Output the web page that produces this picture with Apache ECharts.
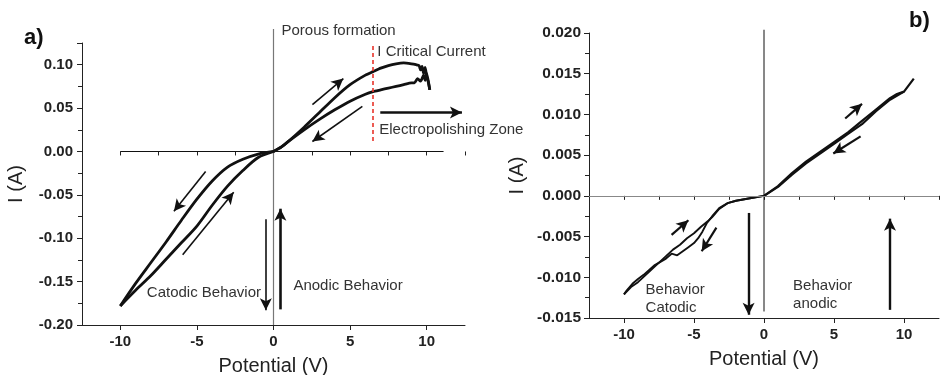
<!DOCTYPE html>
<html>
<head>
<meta charset="utf-8">
<script src="https://cdn.jsdelivr.net/npm/echarts@6/dist/echarts.min.js"></script>
<style>
  html, body { margin: 0; padding: 0; background: #fff; }
  #chart { width: 940px; height: 375px; }
</style>
</head>
<body>
<div id="chart"></div>
<script>
// panel a) anodic sweep 0 -> 10 V (upper branch)
var aFwdV = [0, 0.5, 1, 2, 3, 4, 5, 6, 6.5, 7, 7.5, 8, 8.5, 9, 9.3, 9.5, 9.6, 9.7, 9.8, 9.9, 10.0, 10.1, 10.2];
var aFwdI = [0, 0.005, 0.012, 0.028, 0.045, 0.062, 0.077, 0.088, 0.092, 0.096, 0.099, 0.101, 0.102, 0.101, 0.100, 0.099, 0.094, 0.098, 0.090, 0.097, 0.086, 0.080, 0.071];
// return 10 -> 0 V (lower branch)
var aRevV = [10.2, 10.0, 9.9, 9.8, 9.6, 9.4, 9.2, 9.0, 8.5, 8, 7.5, 7, 6.5, 6, 5, 4, 3, 2, 1, 0.5, 0];
var aRevI = [0.071, 0.090, 0.082, 0.088, 0.081, 0.084, 0.079, 0.079, 0.077, 0.075, 0.073, 0.071, 0.069, 0.066, 0.058, 0.048, 0.037, 0.025, 0.012, 0.005, 0];
// cathodic sweep 0 -> -10 V
var aCathV = [0, -1, -2, -3, -4, -5, -6, -7, -8, -9, -10];
var aCathI = [0, -0.003, -0.009, -0.018, -0.034, -0.055, -0.079, -0.104, -0.128, -0.152, -0.178];
// return -10 -> 0 V
var aBackV = [-10, -9, -8, -7, -6, -5, -4, -3, -2, -1, 0];
var aBackI = [-0.178, -0.160, -0.143, -0.124, -0.105, -0.086, -0.062, -0.040, -0.022, -0.007, 0];

// panel b)
var bFwdV = [0, 1, 2, 3, 4, 5, 6, 7, 8, 9, 9.5, 10, 10.7];
var bFwdI = [0, 0.0012, 0.0028, 0.0042, 0.0054, 0.0066, 0.0078, 0.0092, 0.0106, 0.0120, 0.0125, 0.0128, 0.0144];
var bRevV = [10, 9, 8, 7, 6, 5, 4, 3, 2, 1, 0];
var bRevI = [0.0128, 0.0118, 0.0104, 0.0088, 0.0076, 0.0064, 0.0052, 0.0040, 0.0026, 0.0011, 0];
var bCathV = [0, -1, -2, -2.6, -3.2, -3.7, -4.1, -4.4, -4.7, -5.0, -5.4, -5.8, -6.2, -6.6, -7.0, -7.4, -7.8, -8.2, -8.6, -9.0, -9.4, -9.8, -10];
var bCathI = [0, -0.0003, -0.0006, -0.0009, -0.0015, -0.0025, -0.0034, -0.0044, -0.0052, -0.0058, -0.0063, -0.0068, -0.0073, -0.0071, -0.0077, -0.0081, -0.0085, -0.0091, -0.0097, -0.0102, -0.0108, -0.0116, -0.0121];
var bBackV = [-10, -9.5, -9, -8.5, -8, -7.5, -7, -6.5, -6, -5.5, -5, -4.5, -4, -3.7, -3.2, -2.6, -2, -1, 0];
var bBackI = [-0.0121, -0.0112, -0.0106, -0.0098, -0.0090, -0.0082, -0.0074, -0.0066, -0.0060, -0.0052, -0.0046, -0.0038, -0.0031, -0.0026, -0.0016, -0.0009, -0.0006, -0.0003, 0];

var xTicks = [-10, -5, 0, 5, 10];

function pairs(xs, ys) {
  return xs.map(function (x, i) { return [x, ys[i]]; });
}

var chart = echarts.init(document.getElementById('chart'));
var FONT = 'Liberation Sans, Arial, sans-serif';

function arrow(x1, y1, x2, y2, w) {
  return [{ coord: [x1, y1], lineStyle: { width: w || 1.6 } }, { coord: [x2, y2] }];
}

function xAxisMain(gi) {
  return {
    type: 'value', gridIndex: gi, min: -12.5, max: 12.5, interval: 2.5,
    name: 'Potential (V)', nameLocation: 'middle', nameGap: 31,
    nameTextStyle: { fontSize: 20, color: '#222', fontFamily: FONT },
    axisLine: { onZero: false, lineStyle: { color: '#222', width: 1 } },
    axisTick: { customValues: xTicks, length: 5, lineStyle: { color: '#222' } },
    axisLabel: {
      customValues: xTicks, fontSize: 15, fontWeight: 'bold', color: '#222', fontFamily: FONT, margin: 9,
      formatter: function (v) { return String(v); }
    },
    splitLine: { show: false }
  };
}
function xAxisMinor(gi) {
  return {
    type: 'value', gridIndex: gi, min: -12.5, max: 12.5, interval: 2.5, position: 'bottom',
    axisLine: { show: false },
    axisTick: { length: 4, lineStyle: { color: '#222' } },
    axisLabel: { show: false },
    splitLine: { show: false }
  };
}

var curve = { color: '#111', width: 2.8 };

var option = {
  backgroundColor: '#fff',
  animation: false,
  grid: [
    { left: 82, right: 475, top: 43, bottom: 50, outerBoundsMode: 'none', containLabel: false },
    { left: 589, right: 1, top: 33, bottom: 57, outerBoundsMode: 'none', containLabel: false }
  ],
  xAxis: [xAxisMain(0), xAxisMain(1), xAxisMinor(0), xAxisMinor(1)],
  yAxis: [{
    type: 'value', gridIndex: 0, min: -0.2, max: 0.125, interval: 0.05,
    name: 'I (A)', nameLocation: 'middle', nameGap: 56,
    nameTextStyle: { fontSize: 20, color: '#222', fontFamily: FONT },
    axisLine: { show: true, onZero: false, lineStyle: { color: '#222' } },
    axisTick: { show: true, length: 5, lineStyle: { color: '#222' } },
    minorTick: { show: true, splitNumber: 2, length: 4, lineStyle: { color: '#222' } },
    axisLabel: {
      fontSize: 15, fontWeight: 'bold', color: '#222', fontFamily: FONT, showMaxLabel: false, margin: 9,
      formatter: function (v) { return v.toFixed(2); }
    },
    splitLine: { show: false }
  }, {
    type: 'value', gridIndex: 1, min: -0.015, max: 0.02, interval: 0.005,
    name: 'I (A)', nameLocation: 'middle', nameGap: 62,
    nameTextStyle: { fontSize: 20, color: '#222', fontFamily: FONT },
    axisLine: { show: true, onZero: false, lineStyle: { color: '#222' } },
    axisTick: { show: true, length: 5, lineStyle: { color: '#222' } },
    minorTick: { show: true, splitNumber: 2, length: 4, lineStyle: { color: '#222' } },
    axisLabel: {
      fontSize: 15.5, fontWeight: 'bold', color: '#222', fontFamily: FONT, margin: 8,
      formatter: function (v) { return v.toFixed(3); }
    },
    splitLine: { show: false }
  }],
  series: [
    {
      type: 'line', xAxisIndex: 0, yAxisIndex: 0, showSymbol: false, clip: false, z: 3,
      data: pairs(aFwdV, aFwdI), smooth: 0.2, lineStyle: curve,
      markLine: {
        silent: true, symbol: ['none', 'none'], label: { show: false },
        lineStyle: { color: '#111', type: 'solid', width: 1 },
        data: [
          [{ coord: [-10, 0] }, { coord: [11.1, 0] }],
          [{ coord: [6.45, 0.012], lineStyle: { color: '#e8332a', type: [4, 3], width: 1.6 } }, { coord: [6.45, 0.123] }]
        ]
      }
    },
    {
      type: 'line', xAxisIndex: 0, yAxisIndex: 0, showSymbol: false, clip: false, z: 3,
      data: pairs(aRevV, aRevI), smooth: 0.2, lineStyle: curve,
      markLine: {
        silent: true, symbol: ['none', 'arrow'], symbolSize: [9, 12], label: { show: false },
        lineStyle: { color: '#111', type: 'solid', width: 1.6 },
        data: [
          arrow(2.54, 0.054, 4.56, 0.084),
          arrow(5.8, 0.052, 2.54, 0.0115),
          arrow(6.97, 0.045, 12.3, 0.045, 2.6),
          arrow(-4.43, -0.023, -6.5, -0.069),
          arrow(-5.93, -0.119, -2.6, -0.047),
          arrow(-0.5, -0.078, -0.5, -0.183),
          arrow(0.45, -0.182, 0.45, -0.066, 2.6)
        ]
      }
    },
    {
      type: 'line', xAxisIndex: 0, yAxisIndex: 0, showSymbol: false, z: 3,
      data: pairs(aCathV, aCathI), smooth: 0.3, lineStyle: curve
    },
    {
      type: 'line', xAxisIndex: 0, yAxisIndex: 0, showSymbol: false, z: 3,
      data: pairs(aBackV, aBackI), smooth: 0.3, lineStyle: curve
    },
    {
      type: 'line', xAxisIndex: 1, yAxisIndex: 1, showSymbol: false, clip: false, z: 3,
      data: pairs(bFwdV, bFwdI), lineStyle: { color: '#111', width: 2.2 },
      markLine: {
        silent: true, symbol: ['none', 'none'], label: { show: false },
        lineStyle: { color: '#888', type: 'solid', width: 1.2 },
        data: [
          [{ coord: [-12.5, 0] }, { coord: [12.5, 0] }]
        ]
      }
    },
    {
      type: 'line', xAxisIndex: 1, yAxisIndex: 1, showSymbol: false, clip: false, z: 3,
      data: pairs(bRevV, bRevI), lineStyle: { color: '#111', width: 2.2 },
      markLine: {
        silent: true, symbol: ['none', 'arrow'], symbolSize: [9, 12], label: { show: false },
        lineStyle: { color: '#111', type: 'solid', width: 1.6 },
        data: [
          arrow(5.8, 0.0095, 7.0, 0.0113, 2.2),
          arrow(6.9, 0.0073, 4.95, 0.0052, 2.2),
          arrow(-6.6, -0.0048, -5.4, -0.0030, 2.2),
          arrow(-3.4, -0.0039, -4.45, -0.0068, 2.2),
          arrow(-1.1, -0.0021, -1.1, -0.0146, 2.4),
          arrow(9.0, -0.0140, 9.0, -0.0028, 2.4)
        ]
      }
    },
    {
      type: 'line', xAxisIndex: 1, yAxisIndex: 1, showSymbol: false, z: 3,
      data: pairs(bCathV, bCathI), lineStyle: { color: '#111', width: 1.9 }
    },
    {
      type: 'line', xAxisIndex: 1, yAxisIndex: 1, showSymbol: false, z: 3,
      data: pairs(bBackV, bBackI), lineStyle: { color: '#111', width: 1.9 }
    }
  ]
};
chart.setOption(option);

function px(g, x, y) {
  return chart.convertToPixel({ xAxisIndex: g, yAxisIndex: g }, [x, y]);
}

// text notes placed in data coordinates
var notes = [
  { g: 0, x: 0.52, y: 0.1395, t: 'Porous formation' },
  { g: 0, x: 6.78, y: 0.115, t: 'I Critical Current' },
  { g: 0, x: 6.9, y: 0.025, t: 'Electropolishing Zone' },
  { g: 0, x: -8.27, y: -0.163, t: 'Catodic Behavior' },
  { g: 0, x: 1.3, y: -0.155, t: 'Anodic Behavior' },
  { g: 1, x: -8.46, y: -0.0126, t: 'Behavior\nCatodic' },
  { g: 1, x: 2.08, y: -0.0121, t: 'Behavior\nanodic' }
];
var graphics = notes.map(function (n) {
  var p = px(n.g, n.x, n.y);
  return {
    type: 'text', x: p[0], y: p[1], z: 10,
    style: { text: n.t, fill: '#333', font: '15px ' + FONT, lineHeight: 18, verticalAlign: 'middle', align: 'left' }
  };
});

// zero-potential guide lines (they run past the top of the plot area)
var a0 = px(0, 0, -0.2), a1 = px(0, 0, 0.141);
graphics.push({ type: 'line', z: 1, shape: { x1: a0[0], y1: a0[1], x2: a1[0], y2: a1[1] }, style: { stroke: '#777', lineWidth: 1.2 } });
var b0 = px(1, 0, -0.0142), b1 = px(1, 0, 0.0204);
graphics.push({ type: 'line', z: 1, shape: { x1: b0[0], y1: b0[1], x2: b1[0], y2: b1[1] }, style: { stroke: '#111', lineWidth: 1 } });

graphics.push({ type: 'text', left: 24, top: 27, style: { text: 'a)', fill: '#111', font: 'bold 22px ' + FONT } });
graphics.push({ type: 'text', left: 909, top: 10, style: { text: 'b)', fill: '#111', font: 'bold 22px ' + FONT } });
chart.setOption({ graphic: graphics });
</script>
</body>
</html>
